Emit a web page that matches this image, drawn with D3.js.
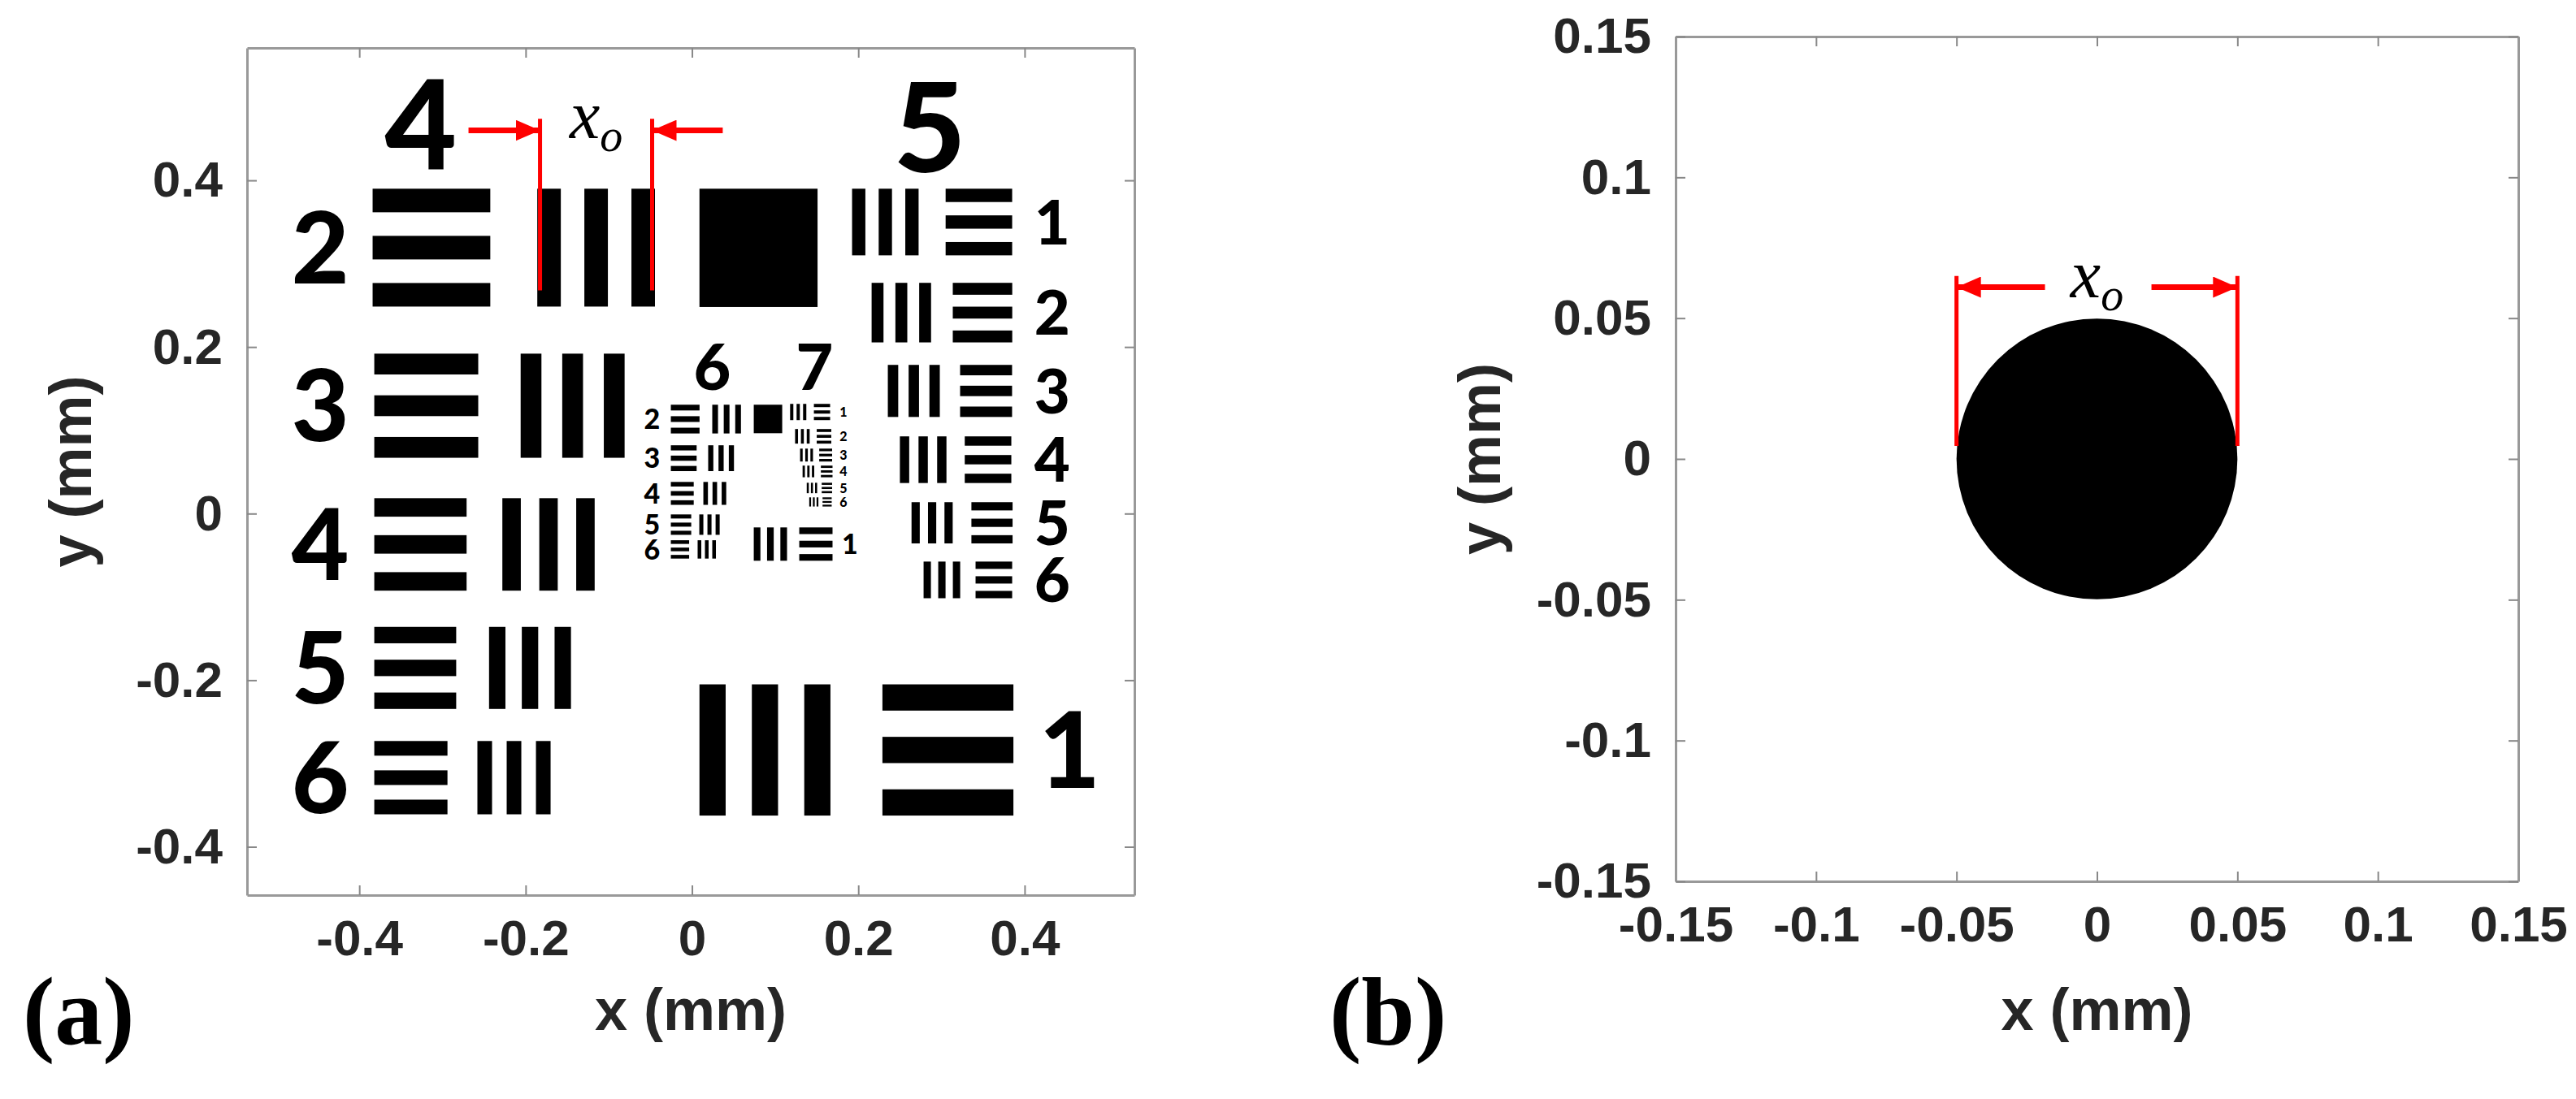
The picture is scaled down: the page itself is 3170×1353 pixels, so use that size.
<!DOCTYPE html>
<html>
<head>
<meta charset="utf-8">
<script src="https://cdn.jsdelivr.net/npm/d3@7"></script>
<style>
  body { margin: 0; background: #fff; }
  svg { display: block; }
</style>
</head>
<body>
<svg id="fig" width="3170" height="1353"></svg>
<script>
// ---- data (mm) ----
// resolution target elements: [group, element, vertical bars x, horizontal bars x, top y, bar width]
var group4 = [
  [4, 1, 0.009, 0.229, -0.205, 0.0315],
  [4, 2, -0.186, -0.384, 0.390, 0.0283],
  [4, 3, -0.206, -0.382, 0.192, 0.0250],
  [4, 4, -0.228, -0.382, 0.0185, 0.0222],
  [4, 5, -0.244, -0.382, -0.136, 0.0197],
  [4, 6, -0.258, -0.382, -0.273, 0.0176]
];
var group5 = [
  [5, 1, 0.1925, 0.305, 0.390, 0.0160],
  [5, 2, 0.216, 0.3136, 0.277, 0.0143],
  [5, 3, 0.2355, 0.3224, 0.1785, 0.0125],
  [5, 4, 0.250, 0.328, 0.0927, 0.0112],
  [5, 5, 0.264, 0.336, 0.0137, 0.0099],
  [5, 6, 0.2785, 0.341, -0.0576, 0.0088]
];
var group6 = [
  [6, 1, 0.0743, 0.129, -0.0166, 0.0080],
  [6, 2, 0.0244, -0.0254, 0.1307, 0.0069],
  [6, 3, 0.0195, -0.0254, 0.082, 0.0062],
  [6, 4, 0.0137, -0.0254, 0.038, 0.0055],
  [6, 5, 0.0088, -0.0254, -0.001, 0.0049],
  [6, 6, 0.0068, -0.0254, -0.032, 0.0044]
];
var group7 = [
  [7, 1, 0.118, 0.1466, 0.1317, 0.0039],
  [7, 2, 0.124, 0.150, 0.1015, 0.0035],
  [7, 3, 0.130, 0.153, 0.078, 0.0031],
  [7, 4, 0.133, 0.155, 0.0576, 0.0028],
  [7, 5, 0.138, 0.156, 0.037, 0.0025],
  [7, 6, 0.141, 0.157, 0.0195, 0.0022]
];
// filled squares: [x0, y top, side]
var squares = [[0.009, 0.390, 0.142], [0.0743, 0.1307, 0.0342]];
// labels: [text, x, y center, font px]
var groupLabels = [["4", -0.326, 0.467, 153], ["5", 0.286, 0.464, 153], ["6", 0.0244, 0.176, 79], ["7", 0.1475, 0.176, 79]];
var elemLabelX = { "4": -0.447, "5": 0.433, "6": -0.048, "7": 0.182 };
var elemLabelX1 = { "4": 0.454, "6": 0.19 };
var elemLabelSize = { "4": 122, "5": 76, "6": 34, "7": 16 };

var xTicksA = [-0.4, -0.2, 0, 0.2, 0.4];
var yTicksA = [-0.4, -0.2, 0, 0.2, 0.4];
var ticksB = [-0.15, -0.1, -0.05, 0, 0.05, 0.1, 0.15];
var circleB = { cx: 0, cy: 0, r: 0.05 };
// x_o markers: line x's, line y range, arrow y, arrow tail x's, label y
var markA = { xs: [-0.1827, -0.0479], y0: 0.268, y1: 0.474, ay: 0.460, tails: [-0.2687, 0.037], ty: 0.451 };
var markB = { xs: [-0.05, 0.05], y0: 0.0046, y1: 0.065, ay: 0.061, tails: [-0.0185, 0.0194], ty: 0.0575 };

// ---- drawing ----
var svg = d3.select("#fig");
var tickFont = "'Liberation Sans', Arial, sans-serif";
var targetFont = "Lato, 'Open Sans', sans-serif";
var serifFont = "'Liberation Serif', 'Times New Roman', serif";

svg.append("defs").append("marker")
  .attr("id", "arrow")
  .attr("markerUnits", "userSpaceOnUse")
  .attr("markerWidth", 30).attr("markerHeight", 26)
  .attr("refX", 28).attr("refY", 13)
  .attr("orient", "auto")
  .append("path").attr("d", "M0,0 L30,13 L0,26 Z").attr("fill", "#ff0000");

function panel(opts) {
  var x = d3.scaleLinear().domain(opts.xd).range(opts.xr);
  var y = d3.scaleLinear().domain(opts.yd).range(opts.yr);
  var g = svg.append("g");
  var content = g.append("g");

  var fmt = function(d) { return String(+d.toFixed(2)); };
  var axes = [
    { ax: d3.axisBottom(x).tickValues(opts.xt).tickFormat(fmt), t: "translate(0," + opts.yr[0] + ")" },
    { ax: d3.axisTop(x).tickValues(opts.xt).tickFormat(""), t: "translate(0," + opts.yr[1] + ")" },
    { ax: d3.axisLeft(y).tickValues(opts.yt).tickFormat(fmt), t: "translate(" + opts.xr[0] + ",0)" },
    { ax: d3.axisRight(y).tickValues(opts.yt).tickFormat(""), t: "translate(" + opts.xr[1] + ",0)" }
  ];
  axes.forEach(function(a) {
    var ag = g.append("g").attr("transform", a.t)
      .call(a.ax.tickSizeInner(-12).tickSizeOuter(0).tickPadding(30));
    ag.select(".domain").attr("stroke", "#999").attr("stroke-width", 3);
    ag.selectAll(".tick line").attr("stroke", "#888").attr("stroke-width", 2);
    ag.selectAll("text").attr("font-family", tickFont).attr("font-weight", "bold")
      .attr("font-size", 62).attr("fill", "#262626");
  });
  g.append("text")
    .attr("x", (opts.xr[0] + opts.xr[1]) / 2).attr("y", opts.xlabY)
    .attr("text-anchor", "middle")
    .attr("font-family", tickFont).attr("font-weight", "bold").attr("font-size", 72).attr("fill", "#262626")
    .text("x (mm)");
  g.append("text")
    .attr("transform", "translate(" + opts.ylabX + "," + ((opts.yr[0] + opts.yr[1]) / 2) + ") rotate(-90)")
    .attr("text-anchor", "middle")
    .attr("font-family", tickFont).attr("font-weight", "bold").attr("font-size", 72).attr("fill", "#262626")
    .text("y (mm)");
  g.append("text")
    .attr("x", opts.tagX).attr("y", 1285)
    .attr("font-family", serifFont).attr("font-weight", "bold")
    .attr("font-size", 118).attr("fill", "#000")
    .text(opts.tag);
  return { x: x, y: y, g: content };
}

function drawMark(p, m) {
  m.xs.forEach(function(xv, i) {
    p.g.append("line")
      .attr("x1", p.x(xv)).attr("x2", p.x(xv))
      .attr("y1", p.y(m.y0)).attr("y2", p.y(m.y1))
      .attr("stroke", "#ff0000").attr("stroke-width", 5);
    p.g.append("line")
      .attr("x1", p.x(m.tails[i])).attr("x2", p.x(xv) + (p.x(m.tails[i]) < p.x(xv) ? -2 : 2))
      .attr("y1", p.y(m.ay)).attr("y2", p.y(m.ay))
      .attr("stroke", "#ff0000").attr("stroke-width", 7)
      .attr("marker-end", "url(#arrow)");
  });
  var t = p.g.append("text")
    .attr("x", p.x((m.xs[0] + m.xs[1]) / 2)).attr("y", p.y(m.ty))
    .attr("text-anchor", "middle")
    .attr("font-family", serifFont)
    .attr("font-style", "italic").attr("font-size", 84).attr("fill", "#000");
  t.append("tspan").text("x");
  t.append("tspan").attr("font-size", 56).attr("dy", 16).text("o");
}

// panel (a)
var pa = panel({ xd: [-0.535, 0.532], xr: [304, 1396], yd: [-0.458, 0.559], yr: [1102, 59],
  xt: xTicksA, yt: yTicksA, xlabY: 1268, ylabX: 112, tag: "(a)", tagX: 28 });

var allEls = group4.concat(group5, group6, group7);
allEls.forEach(function(d) {
  var vx = d[2], hx = d[3], top = d[4], w = d[5];
  [0, 1, 2].forEach(function(k) {
    // vertical bars
    pa.g.append("rect")
      .attr("x", pa.x(vx + 2 * k * w)).attr("y", pa.y(top))
      .attr("width", pa.x(w) - pa.x(0)).attr("height", pa.y(0) - pa.y(5 * w))
      .attr("fill", "#000");
    // horizontal bars
    pa.g.append("rect")
      .attr("x", pa.x(hx)).attr("y", pa.y(top - 2 * k * w))
      .attr("width", pa.x(5 * w) - pa.x(0)).attr("height", pa.y(0) - pa.y(w))
      .attr("fill", "#000");
  });
  var key = String(d[0]);
  var lx = (d[1] === 1 && elemLabelX1[key] !== undefined) ? elemLabelX1[key] : elemLabelX[key];
  var fs = elemLabelSize[key];
  if (d[0] === 4 && d[1] === 1) fs = 130;
  pa.g.append("text")
    .attr("x", pa.x(lx)).attr("y", pa.y(top - 2.5 * w))
    .attr("dy", "0.36em")
    .attr("text-anchor", "middle")
    .attr("font-family", targetFont).attr("font-weight", 900)
    .attr("font-size", fs).attr("fill", "#000")
    .text(d[1]);
});
squares.forEach(function(s) {
  pa.g.append("rect")
    .attr("x", pa.x(s[0])).attr("y", pa.y(s[1]))
    .attr("width", pa.x(s[2]) - pa.x(0)).attr("height", pa.y(0) - pa.y(s[2]))
    .attr("fill", "#000");
});
groupLabels.forEach(function(l) {
  pa.g.append("text")
    .attr("x", pa.x(l[1])).attr("y", pa.y(l[2]))
    .attr("dy", "0.36em").attr("text-anchor", "middle")
    .attr("font-family", targetFont).attr("font-weight", 900)
    .attr("font-size", l[3]).attr("fill", "#000")
    .text(l[0]);
});
drawMark(pa, markA);

// panel (b)
var pb = panel({ xd: [-0.15, 0.15], xr: [2062, 3099], yd: [-0.15, 0.15], yr: [1085, 45],
  xt: ticksB, yt: ticksB, xlabY: 1268, ylabX: 1846, tag: "(b)", tagX: 1636 });
pb.g.append("circle")
  .attr("cx", pb.x(circleB.cx)).attr("cy", pb.y(circleB.cy))
  .attr("r", pb.x(circleB.r) - pb.x(0))
  .attr("fill", "#000");
drawMark(pb, markB);
</script>
</body>
</html>
